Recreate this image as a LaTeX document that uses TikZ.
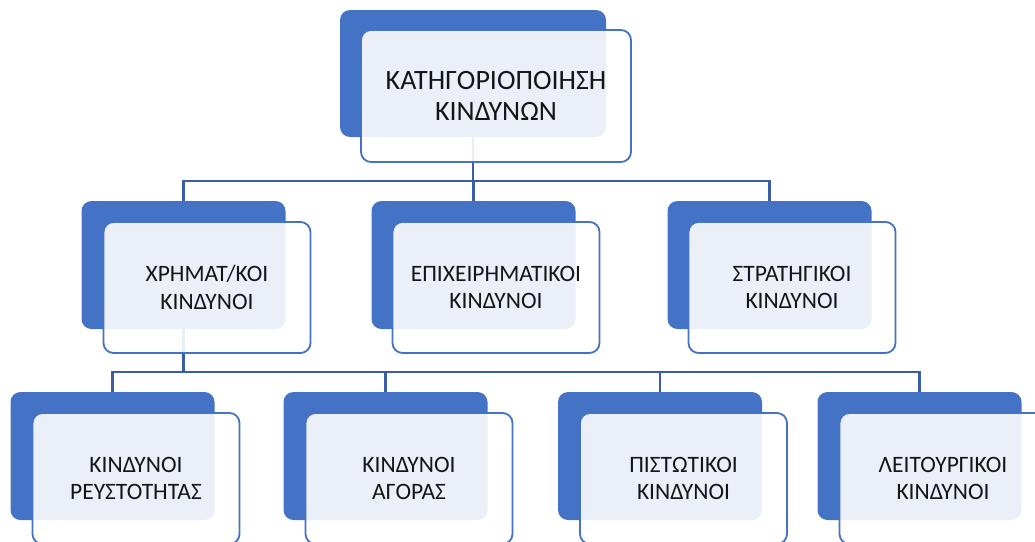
\documentclass[tikz,border=0pt]{standalone}
\usepackage{fontspec}
\setmainfont{Carlito}
\begin{document}
\begin{tikzpicture}[x=1pt,y=-1pt,
  backbox/.style={fill=accent, draw=none, rounded corners=10pt, minimum width=204pt, minimum height=128pt, inner sep=0pt},
  topback/.style={backbox, minimum width=266pt, minimum height=127pt},
  frontbox/.style={fill=white, fill opacity=0.89, text opacity=1, draw=accent, draw opacity=1, line width=1.8pt, rounded corners=10pt, minimum width=207pt, minimum height=131pt, inner sep=0pt, align=center, text=txt, font=\fontsize{23.5}{27.5}\selectfont},
  topfront/.style={frontbox, minimum width=270pt, minimum height=132pt, font=\fontsize{28}{31}\selectfont},
  conn/.style={draw=connc, line width=2.4pt}
]
\definecolor{accent}{HTML}{4472C4}
\definecolor{connc}{HTML}{3A5EA6}
\definecolor{txt}{HTML}{151515}
\useasboundingbox (0,0) rectangle (1035,541);
\clip (0,0) rectangle (1035,541);

% back (blue) boxes
\node[topback] (tb) at (473,73.5) {};
\node[backbox] (ab) at (183.5,265) {};
\node[backbox] (bb) at (473.5,265) {};
\node[backbox] (cb) at (769.5,265) {};
\node[backbox] (db) at (112.5,456) {};
\node[backbox] (eb) at (385.5,456) {};
\node[backbox] (fb) at (660,456) {};
\node[backbox] (gb) at (919.5,456) {};

% connectors
\coordinate (bus1) at (473,181);
\coordinate (bus2) at (183.5,372);
\draw[conn] (tb.south) -- (bus1);
\draw[conn] (bus1) -| (ab.north);
\draw[conn] (bus1) -| (bb.north);
\draw[conn] (bus1) -| (cb.north);
\draw[conn] (ab.south) -- (bus2);
\draw[conn] (bus2) -| (db.north);
\draw[conn] (bus2) -| (eb.north);
\draw[conn] (bus2) -| (fb.north);
\draw[conn] (bus2) -| (gb.north);

% front boxes with text
\node[topfront] (tf) at (496,96) {ΚΑΤΗΓΟΡΙΟΠΟΙΗΣΗ\\ΚΙΝΔΥΝΩΝ};
\node[frontbox] (af) at (207,287.5) {ΧΡΗΜΑΤ/ΚΟΙ\\ΚΙΝΔΥΝΟΙ};
\node[frontbox] (bf) at (496,287.5) {ΕΠΙΧΕΙΡΗΜΑΤΙΚΟΙ\\ΚΙΝΔΥΝΟΙ};
\node[frontbox] (cf) at (792,287.5) {ΣΤΡΑΤΗΓΙΚΟΙ\\ΚΙΝΔΥΝΟΙ};
\node[frontbox] (df) at (136,478.5) {ΚΙΝΔΥΝΟΙ\\ΡΕΥΣΤΟΤΗΤΑΣ};
\node[frontbox] (ef) at (409,478.5) {ΚΙΝΔΥΝΟΙ\\ΑΓΟΡΑΣ};
\node[frontbox] (ff) at (683.5,478.5) {ΠΙΣΤΩΤΙΚΟΙ\\ΚΙΝΔΥΝΟΙ};
\node[frontbox] (gf) at (943,478.5) {ΛΕΙΤΟΥΡΓΙΚΟΙ\\ΚΙΝΔΥΝΟΙ};
\end{tikzpicture}
\end{document}
